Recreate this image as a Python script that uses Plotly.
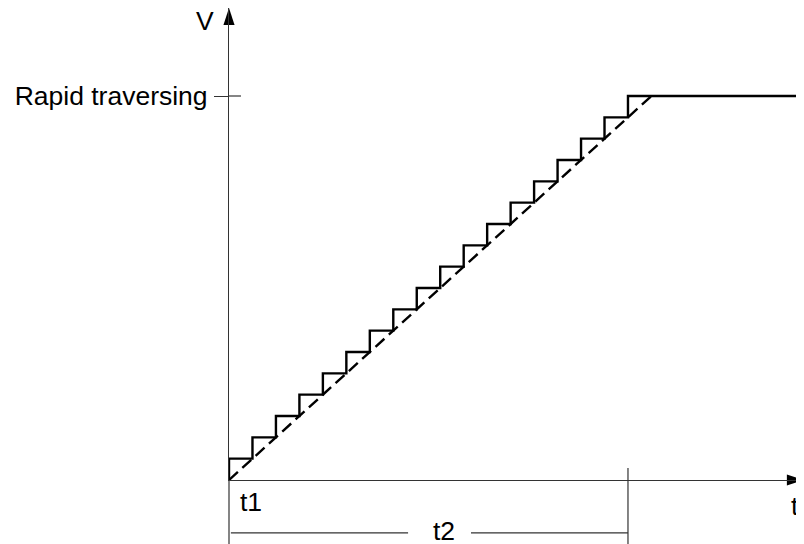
import plotly.graph_objects as go

# set-point steps per interpolation cycle (solid) and the ideal ramp (dashed)
STEP_T = [0, 1, 2, 3, 4, 5, 6, 7, 8, 9, 10, 11, 12, 13, 14, 15, 16, 17, 24.5]
STEP_V = [0, 1, 2, 3, 4, 5, 6, 7, 8, 9, 10, 11, 12, 13, 14, 15, 16, 17, 18]
RAMP_T = [0, 18]
RAMP_V = [0, 18]

RAPID_V = 18
RAPID_LABEL = "Rapid traversing"
T1 = 0
T2 = 17

X_MAX = 24.5
Y_MAX = 22.125

_INK  = "#000000"
_AXIS = "#333333"
_FONT = "Liberation Sans, Arial, sans-serif"
_SIZE = 26.5

# the page body has an 8px margin, so the figure is 8px smaller than the window
W, H = 796, 536
M_L, M_B = 221, 64


def _px(t):
    return t / X_MAX


def _py(v):
    return v / Y_MAX


fig = go.Figure()

fig.add_trace(
    go.Scatter(
        x=RAMP_T,
        y=RAMP_V,
        mode="lines",
        line={"color": _INK, "width": 2.4, "dash": "12px,6px"},
        hoverinfo="skip",
    )
)
fig.add_trace(
    go.Scatter(
        x=STEP_T,
        y=STEP_V,
        mode="lines",
        line={"color": _INK, "width": 2.4, "shape": "vh"},
        hoverinfo="skip",
    )
)

# arrow heads at the ends of both axes
fig.add_trace(
    go.Scatter(
        x=[0, X_MAX],
        y=[Y_MAX, 0],
        mode="markers",
        marker={"symbol": "arrow", "angle": [0, 90], "size": 18, "color": _INK, "line": {"width": 0}},
        cliponaxis=False,
        hoverinfo="skip",
    )
)

fig.update_layout(
    width=W,
    height=H,
    paper_bgcolor="white",
    plot_bgcolor="white",
    showlegend=False,
    margin={"l": M_L, "r": 0, "t": 0, "b": M_B, "pad": 0},
    font={"family": _FONT, "size": _SIZE, "color": _INK},
    xaxis={
        "range": [0, X_MAX],
        "showline": True,
        "linecolor": _AXIS,
        "linewidth": 1.2,
        "showgrid": False,
        "zeroline": False,
        "showticklabels": False,
        "ticks": "",
        "fixedrange": True,
    },
    yaxis={
        "range": [0, Y_MAX],
        "showline": True,
        "linecolor": _AXIS,
        "linewidth": 1.2,
        "showgrid": False,
        "zeroline": False,
        "tickvals": [RAPID_V],
        "ticktext": [RAPID_LABEL],
        "ticks": "outside",
        "ticklen": 14,
        "tickcolor": _AXIS,
        "tickwidth": 1.2,
        "ticklabelstandoff": 1,
        "tickfont": {"family": _FONT, "size": _SIZE, "color": _INK},
        "fixedrange": True,
    },
)

bottom = _py(-3.0)          # bottom edge of the canvas
dim_y = _py(-2.48)          # height of the t2 dimension line
gap_l, gap_r = 7.63, 10.31  # room left for the t2 label

line_style = {"color": _AXIS, "width": 1.2}
shapes = [
    # inner half of the rapid traverse tick
    dict(type="line", xref="paper", yref="y", x0=0, x1=_px(0.51), y0=RAPID_V, y1=RAPID_V, line=line_style),
    # y axis continued below the t axis (t1 mark)
    dict(type="line", xref="paper", yref="paper", x0=_px(T1), x1=_px(T1), y0=0, y1=bottom, line=line_style),
    # end of t2
    dict(type="line", xref="paper", yref="paper", x0=_px(T2), x1=_px(T2), y0=_py(0.56), y1=bottom, line=line_style),
    # t2 dimension line, split around its label
    dict(type="line", xref="paper", yref="paper", x0=_px(0.08), x1=_px(gap_l), y0=dim_y, y1=dim_y, line=line_style),
    dict(type="line", xref="paper", yref="paper", x0=_px(gap_r), x1=_px(T2), y0=dim_y, y1=dim_y, line=line_style),
]
fig.update_layout(shapes=shapes)

labels = [
    dict(text="V", x=_px(-1.02), y=_py(21.5), xanchor="center"),
    dict(text="t1", x=_px(0.38), y=_py(-1.05), xanchor="left"),
    dict(text="t", x=_px(24.12), y=_py(-1.22), xanchor="center"),
    dict(text="t2", x=_px(9.16), y=_py(-2.38), xanchor="center"),
]
for lab in labels:
    fig.add_annotation(
        xref="paper",
        yref="paper",
        yanchor="middle",
        showarrow=False,
        font={"family": _FONT, "size": _SIZE, "color": _INK},
        **lab,
    )

fig.write_html("out.html")
